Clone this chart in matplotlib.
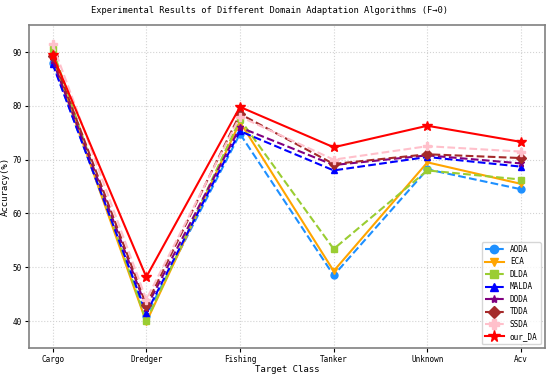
import matplotlib
matplotlib.use("Agg")
import matplotlib.pyplot as plt

classes = ["Cargo", "Dredger", "Fishing", "Tanker", "Unknown", "Acv"]

aoda = [88.0, 41.0, 74.8, 48.5, 68.2, 64.5]
eca = [89.0, 39.8, 77.0, 49.3, 69.5, 65.5]
dlda = [90.5, 40.0, 77.5, 53.4, 68.0, 66.3]
malda = [87.8, 41.5, 75.3, 68.0, 70.5, 68.7]
doda = [88.5, 42.5, 76.0, 69.0, 70.8, 69.3]
tdda = [89.3, 43.0, 78.5, 69.2, 71.0, 70.3]
ssda = [91.5, 44.0, 78.0, 70.0, 72.5, 71.5]
our_da = [89.5, 48.2, 79.8, 72.3, 76.3, 73.3]

plt.rcParams['font.family'] = ['DejaVu Sans Mono']

fig = plt.figure(figsize=(5.5, 3.75), dpi=100)
ax = fig.add_axes([0.053, 0.072, 0.937, 0.861])

x = range(len(classes))
ax.plot(x, aoda, '--o', color='dodgerblue', label='AODA', ms=5)
ax.plot(x, eca, '-v', color='orange', label='ECA', ms=5)
ax.plot(x, dlda, '--s', color='yellowgreen', label='DLDA', ms=5)
ax.plot(x, malda, '--^', color='blue', label='MALDA', ms=5)
ax.plot(x, doda, '--*', color='purple', label='DODA', ms=5)
ax.plot(x, tdda, '--D', color='brown', label='TDDA', ms=5)
ax.plot(x, ssda, '--P', color='pink', label='SSDA', ms=6)
ax.plot(x, our_da, '-*', color='red', label='our_DA', ms=7)

ax.set_xticks(list(x))
ax.set_xticklabels(classes, fontsize=5.5)
ax.tick_params(axis='both', labelsize=5.5, pad=2, length=3)
ax.set_xlim(-0.25, 5.25)
ax.set_ylim(35, 95)
ax.set_yticks([40, 50, 60, 70, 80, 90])
ax.grid(True, linestyle=':', color='lightgray')
for s in ax.spines.values():
    s.set_color('gray')
    s.set_linewidth(1.2)

ax.set_xlabel('Target Class', fontsize=6.5, labelpad=1)
ax.set_ylabel('Accuracy(%)', fontsize=6.5, labelpad=2)
ax.set_title('Experimental Results of Different Domain Adaptation Algorithms (F\u21920)',
             fontsize=6.3, pad=9, x=0.467)
ax.legend(loc='lower right', fontsize=5.5, handlelength=2.5, labelspacing=0.45, markerscale=1.2)

plt.savefig('out.png', dpi=100)
